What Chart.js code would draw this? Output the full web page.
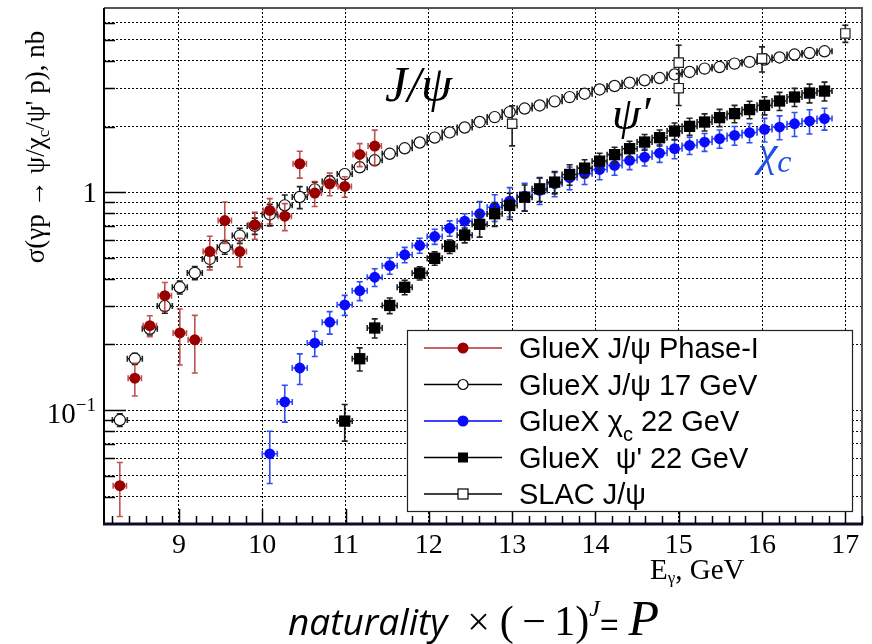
<!DOCTYPE html>
<html>
<head>
<meta charset="utf-8">
<script src="https://cdn.jsdelivr.net/npm/chart.js@4.4.0/dist/chart.umd.min.js"></script>
<style>
  html, body { margin: 0; padding: 0; background: #fff; }
  #wrap { width: 872px; height: 644px; }
</style>
</head>
<body>
<div id="wrap"><canvas id="xsec" width="872" height="644"></canvas></div>
<script>
// GlueX J/psi Phase-I (photon energy GeV, cross section nb, error nb)
const phase1E = [8.29, 8.47, 8.65, 8.83, 9.01, 9.19, 9.37, 9.55, 9.73, 9.91, 10.09, 10.27, 10.45, 10.63, 10.81, 10.99, 11.17, 11.35];
const phase1Sigma = [0.045, 0.140, 0.244, 0.335, 0.226, 0.210, 0.534, 0.741, 0.534, 0.708, 0.824, 0.776, 1.35, 0.99, 1.093, 1.062, 1.49, 1.627];
const phase1Err = [0.0125, 0.024, 0.027, 0.05, 0.065, 0.062, 0.094, 0.16, 0.08, 0.10, 0.11, 0.11, 0.19, 0.13, 0.13, 0.115, 0.18, 0.30];

// GlueX J/psi 17 GeV projection
const jpsi17E = [8.29, 8.47, 8.65, 8.83, 9.01, 9.19, 9.37, 9.55, 9.73, 9.91, 10.09, 10.27, 10.45, 10.63, 10.81, 10.99,
  11.17, 11.35, 11.53, 11.71, 11.89, 12.07, 12.25, 12.43, 12.61, 12.79, 12.97, 13.15, 13.33, 13.51, 13.69, 13.87,
  14.05, 14.23, 14.41, 14.59, 14.77, 14.95, 15.13, 15.31, 15.49, 15.67, 15.85, 16.03, 16.21, 16.39, 16.57, 16.75];
const jpsi17Sigma = [0.090, 0.172, 0.236, 0.300, 0.366, 0.426, 0.494, 0.559, 0.632, 0.700, 0.790, 0.870, 0.950, 1.03, 1.12, 1.21,
  1.30, 1.40, 1.50, 1.59, 1.69, 1.78, 1.88, 1.98, 2.10, 2.21, 2.33, 2.42, 2.50, 2.61, 2.73, 2.83,
  2.96, 3.07, 3.18, 3.26, 3.34, 3.47, 3.56, 3.69, 3.75, 3.89, 3.96, 4.06, 4.15, 4.28, 4.35, 4.43];
const jpsi17Err = [0.006, 0.010, 0.015, 0.022, 0.025, 0.030, 0.040, 0.040, 0.050, 0.060, 0.090, 0.100, 0.110, 0.080, 0.070, 0.060,
  0.055, 0.055, 0.050, 0.050, 0.050, 0.050, 0.050, 0.050, 0.050, 0.050, 0.050, 0.050, 0.060, 0.060, 0.060, 0.060,
  0.060, 0.060, 0.060, 0.060, 0.060, 0.060, 0.060, 0.070, 0.070, 0.070, 0.070, 0.070, 0.070, 0.070, 0.070, 0.070];

// GlueX chi_c 22 GeV projection
const chicE = [10.09, 10.27, 10.45, 10.63, 10.81, 10.99, 11.17, 11.35, 11.53, 11.71, 11.89, 12.07, 12.25, 12.43, 12.61, 12.79,
  12.97, 13.15, 13.33, 13.51, 13.69, 13.87, 14.05, 14.23, 14.41, 14.59, 14.77, 14.95, 15.13, 15.31, 15.49, 15.67,
  15.85, 16.03, 16.21, 16.39, 16.57, 16.75];
const chicSigma = [0.063, 0.109, 0.156, 0.203, 0.253, 0.304, 0.353, 0.407, 0.460, 0.516, 0.569, 0.626, 0.683, 0.736, 0.796, 0.853,
  0.909, 0.958, 1.018, 1.093, 1.165, 1.215, 1.27, 1.326, 1.399, 1.448, 1.51, 1.583, 1.639, 1.698, 1.76, 1.822,
  1.875, 1.94, 1.99, 2.06, 2.12, 2.175];
const chicErr = [0.017, 0.021, 0.025, 0.027, 0.030, 0.032, 0.035, 0.038, 0.040, 0.042, 0.045, 0.050, 0.055, 0.060, 0.11, 0.12,
  0.14, 0.14, 0.14, 0.14, 0.14, 0.13, 0.13, 0.13, 0.13, 0.13, 0.14, 0.16, 0.15, 0.16, 0.17, 0.18,
  0.19, 0.24, 0.25, 0.26, 0.27, 0.25];

// GlueX psi' 22 GeV projection
const psi2sE = [10.99, 11.17, 11.35, 11.53, 11.71, 11.89, 12.07, 12.25, 12.43, 12.61, 12.79, 12.97, 13.15, 13.33, 13.51, 13.69,
  13.87, 14.05, 14.23, 14.41, 14.59, 14.77, 14.95, 15.13, 15.31, 15.49, 15.67, 15.85, 16.03, 16.21, 16.39, 16.57, 16.75];
const psi2sSigma = [0.089, 0.172, 0.238, 0.302, 0.366, 0.425, 0.497, 0.563, 0.635, 0.712, 0.796, 0.869, 0.948, 1.036, 1.112, 1.206,
  1.289, 1.388, 1.486, 1.583, 1.698, 1.778, 1.907, 2.004, 2.098, 2.198, 2.293, 2.392, 2.502, 2.62, 2.733, 2.85, 2.91];
const psi2sErr = [0.017, 0.021, 0.024, 0.025, 0.028, 0.030, 0.035, 0.040, 0.050, 0.090, 0.10, 0.12, 0.13, 0.13, 0.13, 0.13,
  0.12, 0.12, 0.12, 0.13, 0.14, 0.15, 0.17, 0.18, 0.19, 0.20, 0.21, 0.22, 0.24, 0.25, 0.26, 0.28, 0.29];

// SLAC J/psi
const slacE = [13.0, 15.0, 15.0, 16.0, 17.0];
const slacSigma = [2.06, 3.93, 3.00, 4.10, 5.35];
const slacErr = [0.43, 0.79, 0.50, 0.54, 0.48];

// half bin width in energy for the GlueX points
const phase1BinHalf = 0.08;
const projBinHalf = 0.09;

const xTickLabels = ['9', '10', '11', '12', '13', '14', '15', '16', '17'];
const xTickValues = [9, 10, 11, 12, 13, 14, 15, 16, 17];
const yGridValues = [0.04, 0.05, 0.06, 0.07, 0.08, 0.09, 0.1, 0.2, 0.3, 0.4, 0.5, 0.6, 0.7, 0.8, 0.9, 1, 2, 3, 4, 5, 6];

const SERIF = '"Liberation Serif", "DejaVu Serif", serif';
const SANS = '"Liberation Sans", Arial, sans-serif';

const pts = (xs, ys) => xs.map((x, i) => ({ x: x, y: ys[i] }));

// draw a run of text pieces [text, font, dy, color]
function rich(ctx, parts, x, y, align) {
  let w = 0;
  parts.forEach(p => { ctx.font = p[1]; w += ctx.measureText(p[0]).width; });
  let cx = align === 'center' ? x - w / 2 : align === 'right' ? x - w : x;
  parts.forEach(p => {
    ctx.font = p[1];
    if (p[3]) ctx.fillStyle = p[3];
    ctx.fillText(p[0], cx, y + (p[2] || 0));
    cx += ctx.measureText(p[0]).width;
  });
}

const errorBars = {
  id: 'errorBars',
  beforeDatasetDraw(chart, args) {
    const ds = chart.data.datasets[args.index];
    if (!ds.errY) return;
    const xs = chart.scales.x, ys = chart.scales.y, ctx = chart.ctx;
    ctx.save();
    ctx.strokeStyle = ds.barColor;
    ctx.lineWidth = 1.6;
    ds.data.forEach((p, i) => {
      const cx = xs.getPixelForValue(p.x);
      const cy = ys.getPixelForValue(p.y);
      const t = ys.getPixelForValue(p.y + ds.errY[i]);
      const b = ys.getPixelForValue(Math.max(p.y - ds.errY[i], 0.001));
      ctx.beginPath();
      ctx.moveTo(cx, t); ctx.lineTo(cx, b);
      ctx.moveTo(cx - 3, t); ctx.lineTo(cx + 3, t);
      ctx.moveTo(cx - 3, b); ctx.lineTo(cx + 3, b);
      if (ds.errX) {
        const l = xs.getPixelForValue(p.x - ds.errX);
        const r = xs.getPixelForValue(p.x + ds.errX);
        ctx.moveTo(l, cy); ctx.lineTo(r, cy);
        ctx.moveTo(l, cy - 3); ctx.lineTo(l, cy + 3);
        ctx.moveTo(r, cy - 3); ctx.lineTo(r, cy + 3);
      }
      ctx.stroke();
    });
    ctx.restore();
  }
};

const decorations = {
  id: 'decorations',
  afterDraw(chart) {
    const ctx = chart.ctx, a = chart.chartArea;
    const xs = chart.scales.x, ys = chart.scales.y;
    ctx.save();

    // frame
    ctx.lineWidth = 2;
    ctx.strokeStyle = '#555';
    ctx.beginPath();
    ctx.moveTo(a.left, a.top); ctx.lineTo(a.right, a.top); ctx.lineTo(a.right, a.bottom);
    ctx.stroke();
    ctx.strokeStyle = '#000';
    ctx.beginPath();
    ctx.moveTo(a.left, a.top); ctx.lineTo(a.left, a.bottom);
    ctx.stroke();
    ctx.lineWidth = 3;
    ctx.strokeStyle = '#0d0d2a';
    ctx.beginPath();
    ctx.moveTo(a.left - 1, a.bottom); ctx.lineTo(a.right + 1, a.bottom);
    ctx.stroke();

    // inward ticks
    ctx.lineWidth = 1.5;
    ctx.strokeStyle = '#000';
    ctx.beginPath();
    for (let k = 41; k <= 86; k++) {
      const v = k / 5;
      const px = Math.round(xs.getPixelForValue(v)) + 0.5;
      const len = k % 5 === 0 ? 15 : 8;
      ctx.moveTo(px, a.bottom); ctx.lineTo(px, a.bottom - len);
    }
    yGridValues.forEach(v => {
      const py = Math.round(ys.getPixelForValue(v)) + 0.5;
      const len = (v === 0.1 || v === 1) ? 22 : 11;
      ctx.moveTo(a.left, py); ctx.lineTo(a.left + len, py);
    });
    ctx.stroke();

    ctx.fillStyle = '#000';
    ctx.textBaseline = 'alphabetic';
    ctx.textAlign = 'left';

    // x tick labels
    xTickValues.forEach((v, i) => {
      rich(ctx, [[xTickLabels[i], '28px ' + SERIF]], xs.getPixelForValue(v), 553, 'center');
    });
    // y tick labels
    rich(ctx, [['1', '29px ' + SERIF]], 97, ys.getPixelForValue(1) + 10, 'right');
    rich(ctx, [['10', '29px ' + SERIF], ['\u22121', '19px ' + SERIF, -12]], 96, ys.getPixelForValue(0.1) + 13, 'right');

    // axis titles
    rich(ctx, [['E', '29px ' + SERIF], ['\u03b3', '17px ' + SERIF, 4], [', GeV', '29px ' + SERIF]], 650, 579, 'left');
    ctx.save();
    ctx.translate(44, 147);
    ctx.rotate(-Math.PI / 2);
    rich(ctx, [['\u03c3(\u03b3p \u2192 \u03c8/\u03c7', '27px ' + SERIF], ['c', '17px ' + SERIF, 5], ['/\u03c8\' p), nb', '27px ' + SERIF]], 0, 0, 'center');
    ctx.restore();

    // formula under the axis
    rich(ctx, [
      ['naturality', 'italic 37px "Open Sans", sans-serif'],
      ['  \u00d7 ', '40px ' + SERIF],
      ['(\u2009\u2212\u20091)', '42px ' + SERIF],
      ['J', 'italic 24px ' + SERIF, -19],
      ['=', '32px ' + SANS],
      ['\u2009P', 'italic 50px ' + SERIF]
    ], 288, 635, 'left');

    // curve labels
    rich(ctx, [['J/\u03c8', 'italic 50px ' + SERIF]], 385, 101, 'left');
    rich(ctx, [['\u03c8\u2032', 'italic 46px ' + SERIF]], 612, 129, 'left');
    rich(ctx, [['\u03c7', 'italic 44px ' + SERIF, 0, '#1f4fe6'], ['c', 'italic 32px ' + SERIF, 6, '#1f4fe6']], 758, 166, 'left');
    ctx.fillStyle = '#000';

    // legend
    const L = { x: 407.5, y: 330.5, w: 445, h: 181 };
    ctx.fillStyle = '#fff';
    ctx.fillRect(L.x, L.y, L.w, L.h);
    ctx.lineWidth = 1.2;
    ctx.strokeStyle = '#222';
    ctx.strokeRect(L.x, L.y, L.w, L.h);
    const F = '29px ' + SANS;
    const rows = [
      { line: '#b03030', mark: 'dot', fill: '#990000', text: [['GlueX J/\u03c8 Phase-I', F]] },
      { line: '#000', mark: 'ring', text: [['GlueX J/\u03c8 17 GeV', F]] },
      { line: '#0000ff', mark: 'dot', fill: '#0a0aff', text: [['GlueX \u03c7', F], ['c', '20px ' + SANS, 10], [' 22 GeV', F]] },
      { line: '#000', mark: 'box', text: [['GlueX  \u03c8\' 22 GeV', F]] },
      { line: '#000', mark: 'openbox', text: [['SLAC J/\u03c8', F]] }
    ];
    rows.forEach((r, i) => {
      const y = 348 + i * 36.5;
      ctx.strokeStyle = r.line;
      ctx.lineWidth = 1.5;
      ctx.beginPath(); ctx.moveTo(424, y); ctx.lineTo(502, y); ctx.stroke();
      ctx.beginPath();
      if (r.mark === 'dot') {
        ctx.fillStyle = r.fill; ctx.arc(463, y, 5.5, 0, Math.PI * 2); ctx.fill();
      } else if (r.mark === 'ring') {
        ctx.fillStyle = '#fff'; ctx.arc(463, y, 5, 0, Math.PI * 2); ctx.fill();
        ctx.lineWidth = 1.2; ctx.stroke();
      } else if (r.mark === 'box') {
        ctx.fillStyle = '#000'; ctx.fillRect(458, y - 5, 10, 10);
      } else {
        ctx.fillStyle = '#fff'; ctx.fillRect(458, y - 5, 10, 10);
        ctx.lineWidth = 1.2; ctx.strokeRect(458, y - 5, 10, 10);
      }
      ctx.fillStyle = '#000';
      rich(ctx, r.text, 519, y + 10, 'left');
    });
    ctx.restore();
  }
};

new Chart(document.getElementById('xsec'), {
  type: 'scatter',
  data: {
    datasets: [
      {
        label: 'GlueX J/\u03c8 Phase-I', order: 1,
        data: pts(phase1E, phase1Sigma), errY: phase1Err, errX: phase1BinHalf,
        barColor: 'rgba(175,40,40,0.8)',
        pointStyle: 'circle', pointRadius: 5.5, backgroundColor: '#990000', borderColor: '#990000', borderWidth: 0
      },
      {
        label: 'SLAC J/\u03c8', order: 2,
        data: pts(slacE, slacSigma), errY: slacErr, barColor: '#222',
        pointStyle: 'rect', pointRadius: 6.6, backgroundColor: '#fff', borderColor: '#222', borderWidth: 1.2
      },
      {
        label: 'GlueX \u03c8\' 22 GeV', order: 3,
        data: pts(psi2sE, psi2sSigma), errY: psi2sErr, errX: projBinHalf, barColor: '#222',
        pointStyle: 'rect', pointRadius: 8, backgroundColor: '#000', borderColor: '#000', borderWidth: 0
      },
      {
        label: 'GlueX \u03c7c 22 GeV', order: 4,
        data: pts(chicE, chicSigma), errY: chicErr, errX: projBinHalf, barColor: '#2f4ff2',
        pointStyle: 'circle', pointRadius: 5.4, backgroundColor: '#0a0aff', borderColor: '#0a0aff', borderWidth: 0
      },
      {
        label: 'GlueX J/\u03c8 17 GeV', order: 5,
        data: pts(jpsi17E, jpsi17Sigma), errY: jpsi17Err, errX: projBinHalf, barColor: '#222',
        pointStyle: 'circle', pointRadius: 5.6, backgroundColor: '#fff', borderColor: '#111', borderWidth: 1.2
      }
    ]
  },
  options: {
    responsive: false,
    animation: false,
    devicePixelRatio: 1,
    layout: { padding: { left: 104, right: 10, top: 7, bottom: 120 } },
    plugins: { legend: { display: false }, tooltip: { enabled: false } },
    elements: { point: { hoverRadius: 5 } },
    scales: {
      x: {
        type: 'linear', min: 8.1, max: 17.2,
        afterBuildTicks: s => { s.ticks = xTickValues.map(v => ({ value: v })); },
        afterFit: s => { s.height = 0; },
        ticks: { display: false },
        grid: { color: '#000', lineWidth: 1, drawTicks: false },
        border: { display: false, dash: [2, 2] }
      },
      y: {
        type: 'logarithmic', min: 0.03, max: 7,
        afterBuildTicks: s => { s.ticks = yGridValues.map(v => ({ value: v })); },
        afterFit: s => { s.width = 0; },
        ticks: { display: false },
        grid: { color: '#000', lineWidth: 1, drawTicks: false },
        border: { display: false, dash: [2, 2] }
      }
    }
  },
  plugins: [errorBars, decorations]
});
</script>
</body>
</html>
